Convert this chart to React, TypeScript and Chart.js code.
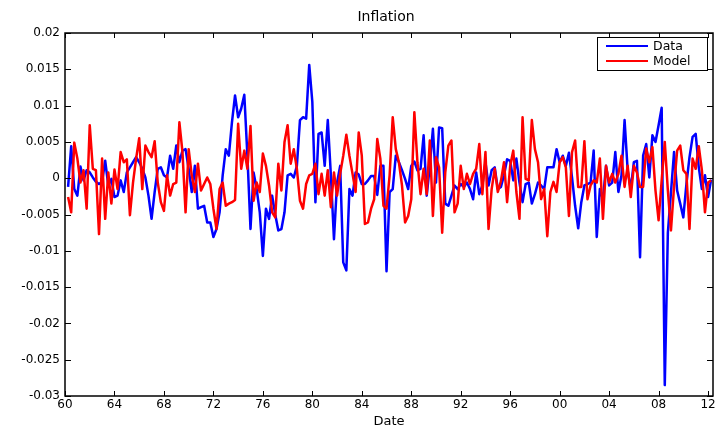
import { useEffect, useRef } from "react";
import { Chart, registerables } from "chart.js";

Chart.register(...registerables);

const TITLE = "Inflation";
const X_LABEL = "Date";
const SERIES_LABELS = ["Data", "Model"];
const SERIES_COLORS = ["#0000ff", "#ff0000"];
const FIRST_QUARTER = 1960.25;
const QUARTER = 0.25;
const X_MIN = 1960;
const X_MAX = 2012.4;
const X_TICKS = [1960, 1964, 1968, 1972, 1976, 1980, 1984, 1988, 1992, 1996, 2000, 2004, 2008, 2012];
const Y_TICKS = [-0.03, -0.025, -0.02, -0.015, -0.01, -0.005, 0, 0.005, 0.01, 0.015, 0.02];

const DATA = [
  -0.0012, 0.0044, -0.0015, -0.0024, 0.0016, -0.0003, 0.0011, 0.0008, 0.0001, -0.0005,
  -0.0008, -0.0005, 0.0024, -0.0010, -0.0001, -0.0026, -0.0024, -0.0003, -0.0019, 0.0008,
  0.0015, 0.0022, 0.0029, 0.0022, 0.0013, 0.0001, -0.0024, -0.0056, -0.0019, 0.0013,
  0.0015, 0.0004, 0.0001, 0.0031, 0.0013, 0.0045, 0.0022, 0.0038, 0.0040, 0.0013,
  -0.0019, 0.0017, -0.0042, -0.0040, -0.0038, -0.0061, -0.0061, -0.0081, -0.0070, -0.0047,
  0.0004, 0.0040, 0.0031, 0.0077, 0.0114, 0.0084, 0.0096, 0.0115, 0.0031, -0.0070,
  0.0008, -0.0015, -0.0047, -0.0107, -0.0042, -0.0056, -0.0024, -0.0050, -0.0072, -0.0070,
  -0.0047, 0.0004, 0.0006, 0.0001, 0.0017, 0.0080, 0.0084, 0.0082, 0.0156, 0.0105,
  -0.0033, 0.0061, 0.0063, 0.0017, 0.0080, 0.0004, -0.0084, -0.0006, 0.0017, -0.0116,
  -0.0127, -0.0015, -0.0024, 0.0008, 0.0005, -0.0008, -0.0008, -0.0003, 0.0003, 0.0003,
  -0.0023, 0.0017, 0.0017, -0.0128, -0.0019, -0.0015, 0.0031, 0.0022, 0.0011, -0.0001,
  -0.0015, 0.0017, 0.0023, 0.0011, 0.0013, 0.0059, -0.0024, 0.0017, 0.0068, -0.0006,
  0.0070, 0.0069, -0.0035, -0.0038, -0.0024, -0.0010, -0.0015, -0.0008, -0.0012, -0.0006,
  -0.0015, -0.0029, 0.0008, -0.0022, -0.0010, 0.0022, -0.0010, 0.0011, 0.0015, -0.0015,
  -0.0012, 0.0004, 0.0026, 0.0024, -0.0003, 0.0027, -0.0006, -0.0033, -0.0008, -0.0006,
  -0.0035, -0.0022, -0.0006, -0.0010, -0.0015, 0.0015, 0.0015, 0.0015, 0.0040, 0.0022,
  0.0031, 0.0017, 0.0035, 0.0001, -0.0038, -0.0069, -0.0033, -0.0010, -0.0008, -0.0006,
  0.0038, -0.0081, -0.0015, -0.0029, 0.0017, -0.0010, -0.0006, 0.0036, -0.0019, 0.0004,
  0.0080, 0.0011, -0.0015, 0.0022, 0.0024, -0.0109, 0.0031, 0.0047, 0.0001, 0.0059,
  0.0050, 0.0073, 0.0097, -0.0285, -0.0075, -0.0020, 0.0036, -0.0017, -0.0035, -0.0054,
  -0.0008, 0.0029, 0.0057, 0.0061, 0.0015, -0.0015, 0.0004, -0.0026, -0.0002,
];

const MODEL = [
  -0.0026, -0.0047, 0.0049, 0.0027, -0.0006, 0.0011, -0.0042, 0.0073, 0.0013, 0.0011,
  -0.0077, 0.0027, -0.0056, 0.0008, -0.0035, 0.0012, -0.0015, 0.0036, 0.0022, 0.0026,
  -0.0051, -0.0006, 0.0027, 0.0055, -0.0015, 0.0045, 0.0036, 0.0029, 0.0051, -0.0006,
  -0.0033, -0.0045, 0.0004, -0.0024, -0.0008, -0.0006, 0.0077, 0.0036, -0.0047, 0.0040,
  0.0004, -0.0019, 0.0020, -0.0017, -0.0008, 0.0001, -0.0008, -0.0042, -0.0070, -0.0015,
  -0.0006, -0.0038, -0.0035, -0.0033, -0.0030, 0.0075, 0.0013, 0.0038, 0.0013, 0.0072,
  -0.0031, -0.0006, -0.0019, 0.0034, 0.0017, -0.0010, -0.0047, -0.0054, 0.0020, -0.0017,
  0.0050, 0.0073, 0.0020, 0.0040, 0.0013, -0.0031, -0.0042, -0.0008, 0.0004, 0.0006,
  0.0020, -0.0022, 0.0006, -0.0024, 0.0011, -0.0040, 0.0008, -0.0024, 0.0006, 0.0031,
  0.0060, 0.0031, 0.0006, -0.0019, 0.0063, 0.0031, -0.0063, -0.0061, -0.0042, -0.0029,
  0.0054, 0.0027, -0.0038, -0.0042, 0.0004, 0.0084, 0.0040, 0.0022, -0.0010, -0.0061,
  -0.0052, -0.0029, 0.0091, 0.0022, -0.0022, 0.0013, -0.0022, 0.0052, -0.0052, 0.0029,
  0.0015, -0.0075, 0.0008, 0.0045, 0.0052, -0.0047, -0.0035, 0.0017, -0.0015, 0.0006,
  -0.0008, 0.0006, 0.0013, 0.0047, -0.0022, 0.0036, -0.0070, -0.0015, 0.0013, -0.0019,
  -0.0004, 0.0022, -0.0033, 0.0017, 0.0038, -0.0019, -0.0056, 0.0084, -0.0001, -0.0003,
  0.0080, 0.0040, 0.0022, -0.0029, -0.0015, -0.0080, -0.0019, -0.0005, -0.0019, 0.0022,
  0.0029, 0.0015, -0.0052, 0.0036, 0.0052, -0.0012, -0.0012, 0.0051, -0.0029, -0.0010,
  -0.0003, -0.0006, 0.0027, -0.0056, 0.0017, -0.0006, 0.0006, -0.0006, 0.0006, 0.0031,
  -0.0012, 0.0017, -0.0026, 0.0017, 0.0008, -0.0012, -0.0012, 0.0041, 0.0022, 0.0043,
  -0.0017, -0.0058, -0.0003, 0.0050, -0.0017, -0.0072, -0.0012, 0.0038, 0.0045, 0.0011,
  0.0006, -0.0070, 0.0027, 0.0013, 0.0044, 0.0011, -0.0047, -0.0006, -0.0003,
];

const FONT_FAMILY = "'DejaVu Sans', 'Liberation Sans', sans-serif";

const framePlugin = {
  id: "matlabFrame",
  afterDraw(chart: any) {
    const { ctx, chartArea: a, scales } = chart;
    const xs = scales.x;
    const ys = scales.y;
    ctx.save();
    ctx.strokeStyle = "#000";
    ctx.lineWidth = 1;
    ctx.beginPath();
    for (const t of xs.ticks) {
      const px = Math.round(xs.getPixelForValue(t.value)) + 0.5;
      ctx.moveTo(px, a.bottom);
      ctx.lineTo(px, a.bottom - 5);
      ctx.moveTo(px, a.top);
      ctx.lineTo(px, a.top + 5);
    }
    for (const t of ys.ticks) {
      const py = Math.round(ys.getPixelForValue(t.value)) + 0.5;
      ctx.moveTo(a.left, py);
      ctx.lineTo(a.left + 6, py);
      ctx.moveTo(a.right, py);
      ctx.lineTo(a.right - 6, py);
    }
    ctx.stroke();
    ctx.lineWidth = 1.5;
    ctx.strokeRect(a.left, a.top, a.right - a.left, a.bottom - a.top);

    // title
    ctx.fillStyle = "#000";
    ctx.font = `14px ${FONT_FAMILY}`;
    ctx.textAlign = "center";
    ctx.textBaseline = "middle";
    ctx.fillText(TITLE, (a.left + a.right) / 2 - 3, 17);

    // legend
    const bw = 110;
    const bh = 33;
    const bx = a.right - bw - 6;
    const by = a.top + 4;
    ctx.fillStyle = "#fff";
    ctx.fillRect(bx, by, bw, bh);
    ctx.lineWidth = 1;
    ctx.strokeStyle = "#000";
    ctx.strokeRect(bx + 0.5, by + 0.5, bw, bh);
    ctx.font = `12.5px ${FONT_FAMILY}`;
    ctx.textAlign = "left";
    chart.data.datasets.forEach((ds: any, i: number) => {
      const ly = by + 9 + i * 15;
      ctx.strokeStyle = ds.borderColor;
      ctx.lineWidth = 2;
      ctx.beginPath();
      ctx.moveTo(bx + 9, ly);
      ctx.lineTo(bx + 51, ly);
      ctx.stroke();
      ctx.fillStyle = "#000";
      ctx.fillText(ds.label, bx + 56, ly + 0.5);
    });
    ctx.restore();
  },
};

export default function App() {
  const canvasRef = useRef<HTMLCanvasElement | null>(null);

  useEffect(() => {
    document.body.style.margin = "0";
    const canvas = canvasRef.current;
    if (!canvas) return;
    const dates = DATA.map((_, i) => FIRST_QUARTER + i * QUARTER);
    const tickFont = { family: FONT_FAMILY, size: 12 };
    const chart = new Chart(canvas, {
      type: "line",
      data: {
        datasets: [
          {
            label: SERIES_LABELS[0],
            data: DATA.map((v, i) => ({ x: dates[i], y: v })),
            borderColor: SERIES_COLORS[0],
            borderWidth: 2.5,
            pointRadius: 0,
            tension: 0,
            borderJoinStyle: "round",
            fill: false,
            order: 2,
          },
          {
            label: SERIES_LABELS[1],
            data: MODEL.map((v, i) => ({ x: dates[i], y: v })),
            borderColor: SERIES_COLORS[1],
            borderWidth: 2.5,
            pointRadius: 0,
            tension: 0,
            borderJoinStyle: "round",
            fill: false,
            order: 1,
          },
        ],
      },
      options: {
        animation: false,
        responsive: false,
        devicePixelRatio: 1,
        layout: { padding: { top: 33, right: 7, left: 0, bottom: 0 } },
        plugins: {
          legend: { display: false },
          title: { display: false },
          tooltip: { enabled: false },
        },
        scales: {
          x: {
            type: "linear",
            min: X_MIN,
            max: X_MAX,
            afterBuildTicks: (s: any) => {
              s.ticks = X_TICKS.map((v) => ({ value: v }));
            },
            afterFit: (s: any) => {
              s.height = 36;
            },
            grid: { display: false, drawTicks: false },
            border: { display: false },
            ticks: {
              color: "#000",
              font: tickFont,
              padding: 2,
              maxRotation: 0,
              autoSkip: false,
              callback: (v: any) => String(Math.round(Number(v)) % 100).padStart(2, "0"),
            },
            title: {
              display: true,
              text: X_LABEL,
              color: "#000",
              font: { family: FONT_FAMILY, size: 13 },
              padding: { top: 0, bottom: 3 },
            },
          },
          y: {
            type: "linear",
            min: Y_TICKS[0],
            max: Y_TICKS[Y_TICKS.length - 1],
            afterBuildTicks: (s: any) => {
              s.ticks = Y_TICKS.map((v) => ({ value: v }));
            },
            afterFit: (s: any) => {
              s.width = 65;
            },
            grid: { display: false, drawTicks: false },
            border: { display: false },
            ticks: {
              color: "#000",
              font: tickFont,
              padding: 5,
              callback: (v: any) => String(Math.round(Number(v) * 1000) / 1000),
            },
          },
        },
      },
      plugins: [framePlugin],
    } as any);
    return () => chart.destroy();
  }, []);

  return (
    <div style={{ width: 720, height: 432, background: "#fff" }}>
      <canvas ref={canvasRef} width={720} height={432} />
    </div>
  );
}
